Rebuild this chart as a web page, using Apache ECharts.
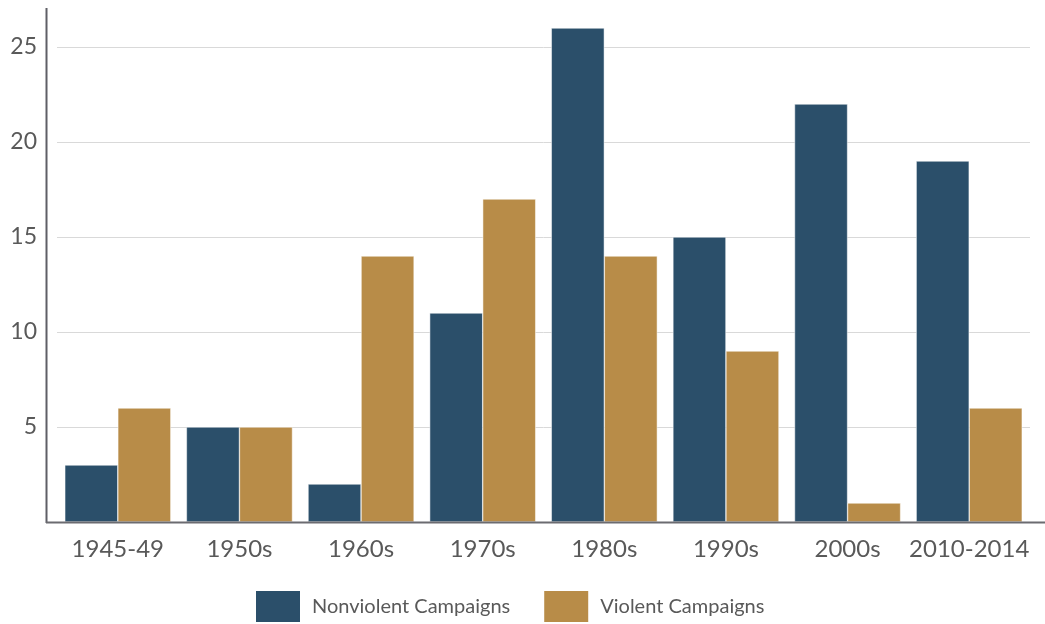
<!DOCTYPE html>
<html>
<head>
<meta charset="utf-8">
<script src="https://cdn.jsdelivr.net/npm/echarts@6/dist/echarts.min.js"></script>
<style>
  html, body { margin: 0; padding: 0; background: #fff; }
  #chart { width: 1045px; height: 624px; }
</style>
</head>
<body>
<div id="chart"></div>
<script>
// decades on the x axis
const decades = ["1945-49", "1950s", "1960s", "1970s", "1980s", "1990s", "2000s", "2010-2014"];
// number of campaigns per decade
const nonviolent = [3, 5, 2, 11, 26, 15, 22, 19];
const violent = [6, 5, 14, 17, 14, 9, 1, 6];

const navy = "#2b4f6a";
const gold = "#b88c48";
const textGrey = "#595959";
const font = "Lato";

const chart = echarts.init(document.getElementById("chart"));

const option = {
  animation: false,
  textStyle: { fontFamily: font },
  grid: { left: 57, right: 15, top: 9, bottom: 102 },
  legend: {
    left: 249,
    top: 584,
    itemWidth: 46,
    itemHeight: 33,
    itemGap: 32,
    icon: "rect",
    textStyle: { fontFamily: font, fontSize: 20, color: textGrey, padding: [0, 0, 0, 6] },
    data: ["Nonviolent Campaigns", "Violent Campaigns"]
  },
  xAxis: {
    type: "category",
    data: decades,
    axisLine: { show: false },
    axisTick: { show: false },
    axisLabel: { color: textGrey, fontSize: 24, margin: 15, interval: 0 }
  },
  yAxis: {
    type: "value",
    min: 0,
    max: 27,
    interval: 5,
    axisLine: { show: false },
    axisTick: { show: false },
    axisLabel: {
      color: textGrey,
      fontSize: 23,
      margin: 20,
      showMaxLabel: false,
      formatter: v => (v === 0 || v === 27 ? "" : v)
    },
    splitLine: { showMaxLine: false, lineStyle: { color: "#d9d9d9", width: 1 } }
  },
  // axis lines run past the plot area like in the original
  graphic: [
    { type: "line", shape: { x1: 46.5, y1: 8, x2: 46.5, y2: 523 }, style: { stroke: "#5f5f66", lineWidth: 2 }, z: 10 },
    { type: "line", shape: { x1: 46, y1: 522.5, x2: 1045, y2: 522.5 }, style: { stroke: "#6b6b70", lineWidth: 2 }, z: 10 }
  ],
  series: [
    {
      name: "Nonviolent Campaigns",
      type: "bar",
      data: nonviolent,
      barGap: "0%",
      barCategoryGap: "12.8%",
      itemStyle: { color: navy, borderColor: "#fff", borderWidth: 0.5 }
    },
    {
      name: "Violent Campaigns",
      type: "bar",
      data: violent,
      itemStyle: { color: gold, borderColor: "#fff", borderWidth: 0.5 }
    }
  ]
};

chart.setOption(option);
</script>
</body>
</html>
